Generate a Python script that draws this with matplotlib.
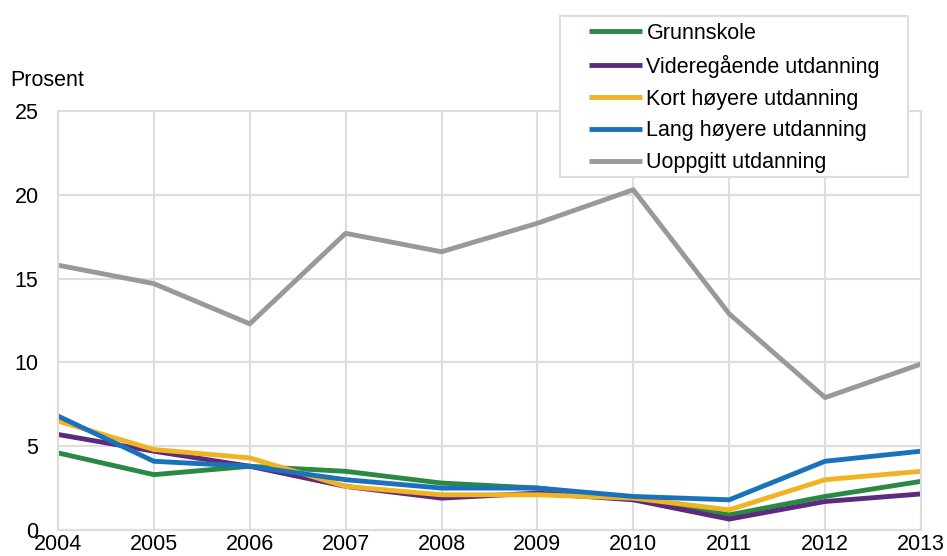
import matplotlib
matplotlib.use("Agg")
import matplotlib.pyplot as plt
from matplotlib.patches import Rectangle

years = [2004, 2005, 2006, 2007, 2008, 2009, 2010, 2011, 2012, 2013]
grunnskole = [4.6, 3.3, 3.8, 3.5, 2.8, 2.5, 1.9, 0.9, 2.0, 2.9]
videregaende = [5.7, 4.7, 3.8, 2.6, 1.9, 2.2, 1.8, 0.65, 1.7, 2.15]
kort = [6.5, 4.8, 4.3, 2.6, 2.1, 2.1, 1.9, 1.2, 3.0, 3.5]
lang = [6.8, 4.1, 3.8, 3.0, 2.5, 2.5, 2.0, 1.8, 4.1, 4.7]
uoppgitt = [15.8, 14.7, 12.3, 17.7, 16.6, 18.3, 20.3, 12.9, 7.9, 9.9]

labels = ["Grunnskole", "Videregående utdanning", "Kort høyere utdanning",
          "Lang høyere utdanning", "Uoppgitt utdanning"]
colors = ["#2a8a43", "#5c2a7e", "#f0b323", "#1a73ba", "#999999"]
series = [grunnskole, videregaende, kort, lang, uoppgitt]
yticks = [0, 5, 10, 15, 20, 25]

plt.rcParams['font.family'] = ['Liberation Sans', 'DejaVu Sans']
FS = 15.5

fig = plt.figure(figsize=(9.47, 5.56), dpi=100)
ax = fig.add_axes([0.0612, 0.0468, 0.9113, 0.7536])

for vals, lab, col in zip(series, labels, colors):
    ax.plot(years, vals, color=col, linewidth=3.5, label=lab, solid_capstyle='butt')

ax.set_xlim(2004, 2013)
ax.set_ylim(0, 25)
ax.set_xticks(years)
ax.set_yticks(yticks)
ax.grid(True, color='#dddddd', linewidth=1.5)
ax.set_axisbelow(True)
for s in ax.spines.values():
    s.set_color('#dddddd')
    s.set_linewidth(1.5)
ax.tick_params(length=0, labelsize=FS, colors='#000000')
ax.tick_params(axis='x', pad=3)
ax.tick_params(axis='y', pad=14)

fig.text(0.011, 0.855, "Prosent", fontsize=FS, ha='left', va='center')

# legend box
rect = Rectangle((560/947, (556-177)/556), 348/947, 161/556, transform=fig.transFigure,
                 facecolor='white', edgecolor='#dddddd', linewidth=1.5, zorder=9)
fig.patches.append(rect)

leg = fig.legend(loc='upper left', bbox_to_anchor=(589/947, (556-23)/556), fontsize=FS,
                 frameon=False, handlelength=2.47, handletextpad=0.2, labelspacing=0.5,
                 borderpad=0, borderaxespad=0)
leg.set_zorder(10)

fig.savefig("out.png", dpi=100)
